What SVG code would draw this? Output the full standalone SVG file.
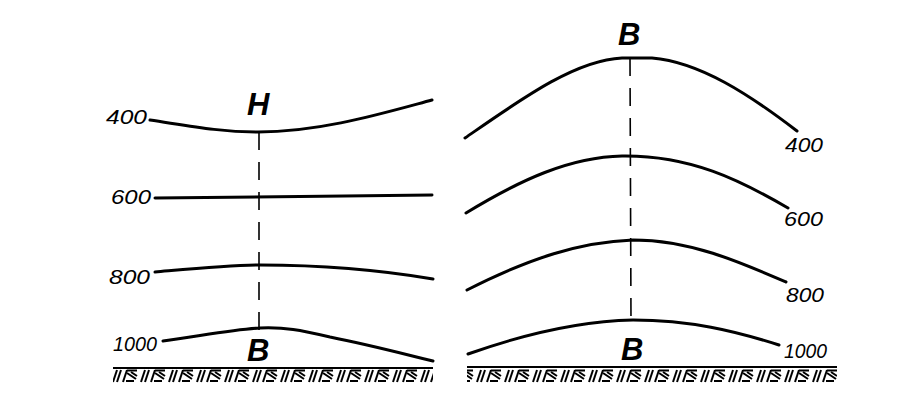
<svg xmlns="http://www.w3.org/2000/svg" width="917" height="404" viewBox="0 0 917 404">
<style>
.iso{fill:none;stroke:#000;stroke-width:3;stroke-linecap:round}
.dash{fill:none;stroke:#000;stroke-width:1.6;stroke-dasharray:18 12}
.ground{stroke:#000;stroke-width:2.2}
.lbl{font-family:"Liberation Sans",Arial,sans-serif;font-style:italic;font-size:20px;fill:#000}
.big{font-family:"Liberation Sans",Arial,sans-serif;font-style:italic;font-weight:bold;font-size:31px;fill:#000}
</style>
<defs>
<pattern id="hatch" x="0" y="369" width="28" height="14" patternUnits="userSpaceOnUse">
<g stroke="#000" stroke-width="2" fill="none">
<line x1="1" y1="13" x2="5" y2="1"/>
<line x1="5" y1="13" x2="9" y2="1"/>
<line x1="11" y1="13" x2="15" y2="1"/>
<line x1="15" y1="1.5" x2="25" y2="1.5"/>
<line x1="15" y1="4" x2="24" y2="10"/>
<line x1="19" y1="3" x2="25" y2="7"/>
<line x1="14" y1="12" x2="22" y2="12"/>
</g>
</pattern>
</defs>
<rect width="917" height="404" fill="#fff"/>
<g id="ground">
<line class="ground" x1="113" y1="368" x2="433" y2="368"/>
<rect x="113" y="369" width="320" height="14" fill="url(#hatch)"/>
<line class="ground" x1="467" y1="367" x2="837" y2="367"/>
<rect x="467" y="369" width="370" height="14" fill="url(#hatch)"/>
</g>
<g id="connectors">
<line class="dash" x1="259" y1="132" x2="259" y2="330"/>
<line class="dash" x1="630" y1="58" x2="631" y2="322"/>
</g>
<g id="left-panel">
<g id="left-400"><path class="iso" d="M150,120 C190,126 220,132 258,132 C320,132 380,114 432,100"/><text class="lbl" x="106" y="124" textLength="41" lengthAdjust="spacingAndGlyphs">400</text></g>
<g id="left-600"><path class="iso" d="M155,198 L300,196.5 L432,195"/><text class="lbl" x="111" y="204" textLength="40" lengthAdjust="spacingAndGlyphs">600</text></g>
<g id="left-800"><path class="iso" d="M155,272 C200,268 230,265 260,265 C320,265 380,270 433,279"/><text class="lbl" x="109" y="284" textLength="41" lengthAdjust="spacingAndGlyphs">800</text></g>
<g id="left-1000"><path class="iso" d="M163,341 C200,336 235,329 260,328 C285,327 300,330 330,337 C370,345 400,353 433,361"/><text class="lbl" x="113" y="351" textLength="44" lengthAdjust="spacingAndGlyphs">1000</text></g>
<g id="left-H"><text class="big" x="247" y="115">H</text></g>
<g id="left-B"><text class="big" x="247" y="361">B</text></g>
</g>
<g id="right-panel">
<g id="right-400"><path class="iso" d="M465,138 C520,100 575,60 622,58 L652,58 C700,62 750,95 797,131"/><text class="lbl" x="785" y="152" textLength="38" lengthAdjust="spacingAndGlyphs">400</text></g>
<g id="right-600"><path class="iso" d="M466,213 C520,180 570,157 622,156 C690,155 740,180 788,208"/><text class="lbl" x="784" y="226" textLength="39" lengthAdjust="spacingAndGlyphs">600</text></g>
<g id="right-800"><path class="iso" d="M467,290 C530,258 580,242 633,240 C690,240 740,262 786,282"/><text class="lbl" x="786" y="302" textLength="38" lengthAdjust="spacingAndGlyphs">800</text></g>
<g id="right-1000"><path class="iso" d="M468,354 C530,332 585,321 633,320 C690,320 735,331 779,345"/><text class="lbl" x="784" y="358" textLength="43" lengthAdjust="spacingAndGlyphs">1000</text></g>
<g id="right-B-top"><text class="big" x="618" y="45">B</text></g>
<g id="right-B-bottom"><text class="big" x="621" y="360">B</text></g>
</g>
</svg>
